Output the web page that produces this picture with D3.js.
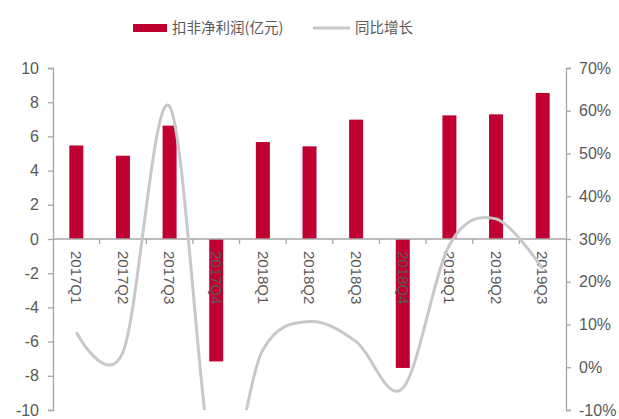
<!DOCTYPE html>
<html>
<head>
<meta charset="utf-8">
<script src="https://cdn.jsdelivr.net/npm/d3@7/dist/d3.min.js"></script>
<style>
html,body{margin:0;padding:0;background:#fff;}
svg{display:block;}
</style>
</head>
<body>
<svg id="chart" width="619" height="419"></svg>
<script>
const categories = ["2017Q1","2017Q2","2017Q3","2017Q4","2018Q1","2018Q2","2018Q3","2018Q4","2019Q1","2019Q2","2019Q3"];
const profit = [5.47, 4.87, 6.63, -7.16, 5.67, 5.42, 6.98, -7.54, 7.23, 7.29, 8.54];
const growth = [8.2, 3.5, 61, -27.5, 4.1, 10.7, 6.0, -4.9, 28.6, 34.7, 23];
const leftTicks = [-10,-8,-6,-4,-2,0,2,4,6,8,10];
const rightTicks = [-10,0,10,20,30,40,50,60,70];
const seriesNames = ["扣非净利润(亿元)", "同比增长"];

const svg = d3.select("#chart");
const L = 53, R = 566, T = 68, B = 410;
const textColor = "#595959", axisColor = "#a6a6a6";
const barColor = "#C00030", lineColor = "#c8c8c8";

const xb = d3.scaleBand().domain(categories).range([L, R]);
const yL = d3.scaleLinear().domain([-10, 10]).range([B, T]);
const yR = d3.scaleLinear().domain([-10, 70]).range([B, T]);

// bars
svg.append("g").selectAll("rect").data(profit).join("rect")
  .attr("x", (d,i) => xb(categories[i]) + xb.bandwidth()/2 - 7)
  .attr("width", 14)
  .attr("y", d => Math.min(yL(d), yL(0)))
  .attr("height", d => Math.abs(yL(d) - yL(0)))
  .attr("fill", barColor);

// left axis
const gl = svg.append("g").attr("transform", `translate(${L},0)`)
  .call(d3.axisLeft(yL).tickValues(leftTicks).tickSize(5).tickPadding(9).tickFormat(d => String(d)));
// right axis
const gr = svg.append("g").attr("transform", `translate(${R},0)`)
  .call(d3.axisRight(yR).tickValues(rightTicks).tickSize(5).tickPadding(8).tickFormat(d => String(d) + "%"));
[gl, gr].forEach(g => {
  g.select(".domain").attr("stroke", axisColor).attr("stroke-width", 1.3);
  g.selectAll(".tick line").attr("stroke", axisColor).attr("stroke-width", 1.3);
  g.selectAll(".tick text").attr("fill", textColor).attr("font-size", 16)
    .attr("font-family", "Liberation Sans, Arial, sans-serif");
});

// x axis line at 0
const gx = svg.append("g").attr("transform", `translate(0,${yL(0)})`);
gx.append("line").attr("x1", L).attr("x2", R).attr("y1", 0).attr("y2", 0)
  .attr("stroke", axisColor).attr("stroke-width", 1.3);
gx.selectAll("line.tk").data(categories.slice(1)).join("line").attr("class","tk")
  .attr("x1", d => xb(d)).attr("x2", d => xb(d)).attr("y1", 0).attr("y2", 5)
  .attr("stroke", axisColor).attr("stroke-width", 1.3);
gx.selectAll("text").data(categories).join("text")
  .attr("transform", d => `translate(${xb(d) + xb.bandwidth()/2},12) rotate(90)`)
  .attr("dy", "0.35em")
  .attr("text-anchor", "start")
  .attr("fill", textColor).attr("font-size", 15)
  .attr("font-family", "Liberation Sans, Arial, sans-serif")
  .text(d => d);

// line
svg.append("clipPath").attr("id", "plotclip").append("rect")
  .attr("x", L).attr("y", T).attr("width", R - L).attr("height", B - T);
const line = d3.line()
  .x((d,i) => xb(categories[i]) + xb.bandwidth()/2)
  .y(d => yR(d))
  .curve(d3.curveCatmullRom.alpha(0));
svg.append("path").datum(growth)
  .attr("clip-path", "url(#plotclip)")
  .attr("d", line).attr("fill", "none")
  .attr("stroke", lineColor).attr("stroke-width", 3);

// legend
const lg = svg.append("g");
lg.append("rect").attr("x", 133).attr("y", 24).attr("width", 34).attr("height", 8).attr("fill", barColor);
lg.append("text").attr("x", 172).attr("y", 28).attr("dy", "0.35em")
  .attr("fill", textColor).attr("font-size", 14.5)
  .attr("font-family", "Noto Sans CJK SC, sans-serif").text(seriesNames[0]);
lg.append("line").attr("x1", 313).attr("x2", 350).attr("y1", 28).attr("y2", 28)
  .attr("stroke", lineColor).attr("stroke-width", 3);
lg.append("text").attr("x", 355).attr("y", 28).attr("dy", "0.35em")
  .attr("fill", textColor).attr("font-size", 14.5)
  .attr("font-family", "Noto Sans CJK SC, sans-serif").text(seriesNames[1]);
</script>
</body>
</html>
